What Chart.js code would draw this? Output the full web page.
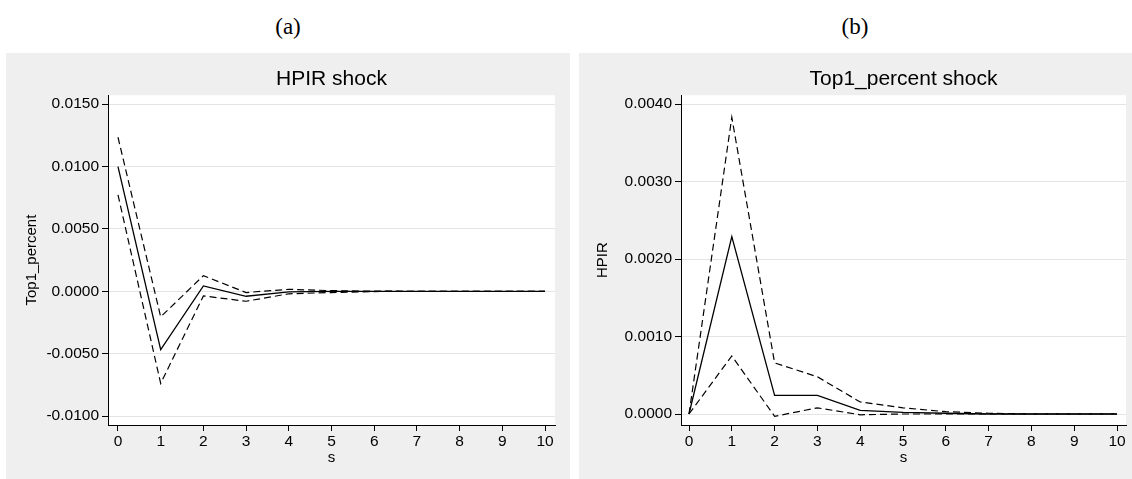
<!DOCTYPE html>
<html>
<head>
<meta charset="utf-8">
<script src="https://cdn.jsdelivr.net/npm/chart.js@4.4.1/dist/chart.umd.min.js"></script>
<style>
    body { margin: 0; background: #ffffff; width: 1132px; height: 479px; position: relative; overflow: hidden; }
    .painel { position: absolute; top: 53px; height: 426px; background: #efefef; }
    .letra { position: absolute; top: 14px; font-family: "Liberation Serif", "DejaVu Serif", serif; font-size: 23px; color: #000; text-align: center; width: 200px; }
</style>
</head>
<body>
<div class="letra" style="left:188px">(a)</div>
<div class="letra" style="left:755px">(b)</div>
<div class="painel" style="left:6px; width:564px"><canvas id="graficoA" width="564" height="426"></canvas></div>
<div class="painel" style="left:579px; width:553px"><canvas id="graficoB" width="553" height="426"></canvas></div>
<script>
// passos (eixo s)
var passos = [0, 1, 2, 3, 4, 5, 6, 7, 8, 9, 10];

// (a) choque HPIR -> Top1_percent
var irfA = [0.0100, -0.00467, 0.00043, -0.00040, -0.00005, -0.00001, 0, 0, 0, 0, 0];
var superiorA = [0.01235, -0.00205, 0.00125, -0.00010, 0.00016, 0.00005, 0.00001, 0, 0, 0, 0];
var inferiorA = [0.00773, -0.00739, -0.00037, -0.00080, -0.00020, -0.00010, -0.00002, 0, 0, 0, 0];
var ticksA = [-0.0100, -0.0050, 0.0000, 0.0050, 0.0100, 0.0150];

// (b) choque Top1_percent -> HPIR
var irfB = [0, 0.00229, 0.00024, 0.00024, 0.000047, 0.00002, 0.00001, 0, 0, 0, 0];
var superiorB = [0, 0.00383, 0.00066, 0.00048, 0.000155, 0.00008, 0.00003, 0.00001, 0, 0, 0];
var inferiorB = [0, 0.00075, -0.00003, 0.00008, -0.00001, 0, 0, 0, 0, 0, 0];
var ticksB = [0.0000, 0.0010, 0.0020, 0.0030, 0.0040];

var fonte = "'Liberation Sans', Arial, sans-serif";

// fundo branco so na area do grafico
var fundoBranco = {
    id: 'fundoBranco',
    beforeDraw: function (chart) {
        var a = chart.chartArea;
        chart.ctx.save();
        chart.ctx.fillStyle = '#ffffff';
        chart.ctx.fillRect(a.left, a.top, a.right - a.left, a.bottom - a.top);
        chart.ctx.restore();
    }
};

function pontos(valores) {
    return passos.map(function (s, i) { return { x: s, y: valores[i] }; });
}

function serie(valores, tracejado) {
    return {
        data: pontos(valores),
        borderColor: '#000000',
        borderWidth: tracejado ? 1.2 : 1.3,
        borderDash: tracejado ? [7, 4] : [],
        pointRadius: 0,
        tension: 0,
        fill: false
    };
}

function montar(id, titulo, nomeY, irf, sup, inf, ticksY, minY, maxY, minX, maxX, direita, padTituloY) {
    return new Chart(document.getElementById(id), {
        type: 'line',
        data: {
            datasets: [serie(sup, true), serie(irf, false), serie(inf, true)]
        },
        options: {
            responsive: false,
            animation: false,
            layout: { padding: { left: 0, right: direita, top: 0, bottom: 0 } },
            plugins: {
                legend: { display: false },
                tooltip: { enabled: false },
                title: {
                    display: true,
                    text: titulo,
                    fullSize: false,
                    color: '#000',
                    font: { family: fonte, size: 21, weight: 'normal' },
                    padding: { top: 14, bottom: 3 }
                }
            },
            scales: {
                x: {
                    type: 'linear',
                    min: minX,
                    max: maxX,
                    afterBuildTicks: function (scale) {
                        scale.ticks = passos.map(function (v) { return { value: v }; });
                    },
                    afterFit: function (scale) { scale.height = 54; },
                    grid: { drawOnChartArea: false, tickColor: '#000', tickLength: 6 },
                    border: { color: '#000', width: 1 },
                    ticks: {
                        color: '#000',
                        padding: 1,
                        maxRotation: 0,
                        font: { family: fonte, size: 15.5 },
                        callback: function (v) { return String(v); }
                    },
                    title: {
                        display: true,
                        text: 's',
                        color: '#000',
                        font: { family: fonte, size: 15 },
                        padding: { top: 0, bottom: 12 }
                    }
                },
                y: {
                    min: minY,
                    max: maxY,
                    afterBuildTicks: function (scale) {
                        scale.ticks = ticksY.map(function (v) { return { value: v }; });
                    },
                    afterFit: function (scale) { scale.width = 102; },
                    grid: { color: '#e4e4e4', lineWidth: 1, tickColor: '#000', tickLength: 6 },
                    border: { color: '#000', width: 1 },
                    ticks: {
                        color: '#000',
                        padding: 3,
                        font: { family: fonte, size: 15.5 },
                        callback: function (v) { return v.toFixed(4); }
                    },
                    title: {
                        display: true,
                        text: nomeY,
                        color: '#000',
                        font: { family: fonte, size: 15 },
                        padding: { top: padTituloY, bottom: 0 }
                    }
                }
            }
        },
        plugins: [fundoBranco]
    });
}

montar('graficoA', 'HPIR shock', 'Top1_percent', irfA, superiorA, inferiorA, ticksA,
    -0.010721, 0.015721, -0.234, 10.234, 15, 17);
montar('graficoB', 'Top1_percent shock', 'HPIR', irfB, superiorB, inferiorB, ticksB,
    -0.000142, 0.004116, -0.187, 10.21, 6, 15);
</script>
</body>
</html>
